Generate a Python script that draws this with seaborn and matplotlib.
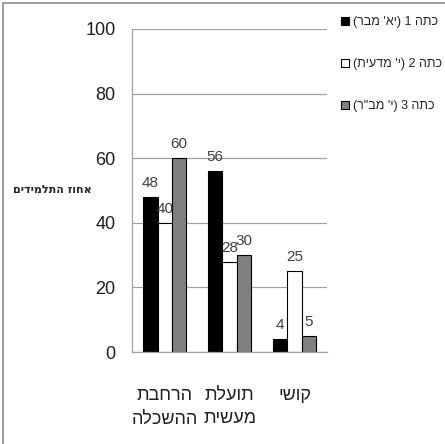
import matplotlib
matplotlib.use("Agg")
import matplotlib.pyplot as plt
from matplotlib.patches import Rectangle
import seaborn as sns
import pandas as pd

categories = ["הרחבת\nההשכלה", "תועלת\nמעשית", "קושי"]
series = ["כתה 1 (יא' מבר)", "כתה 2 (י' מדעית)", 'כתה 3 (י\' מב"ר)']
values = {
    series[0]: [48, 56, 4],
    series[1]: [40, 28, 25],
    series[2]: [60, 30, 5],
}
ylabel = "אחוז התלמידים"
colors = ["#000000", "#ffffff", "#808080"]


def vis(s):
    # matplotlib has no bidi support: put Hebrew in visual order by hand
    swap = {"(": ")", ")": "("}
    return "\n".join("".join(swap.get(c, c) for c in line[::-1]) for line in s.split("\n"))


rows = []
for name in series:
    for cat, v in zip(categories, values[name]):
        rows.append({"cat": vis(cat), "series": vis(name), "val": v})
df = pd.DataFrame(rows)

sns.set_style("white")
plt.rcParams["font.family"] = ["Liberation Sans", "DejaVu Sans"]

fig = plt.figure(figsize=(4.45, 4.44), dpi=100)
ax = fig.add_axes([0.297, 0.207, 0.438, 0.728])

sns.barplot(data=df, x="cat", y="val", hue="series", palette=colors,
            edgecolor="black", linewidth=0.8, width=0.66, ax=ax)

for cont in ax.containers:
    ax.bar_label(cont, padding=5, fontsize=11, color="#404040")

ax.set_ylim(0, 100)
ax.set_yticks(range(0, 101, 20))
ax.set_xlim(-0.5, 2.5)
ax.yaxis.grid(True, color="#a0a0a0", linewidth=0.9)
ax.set_axisbelow(True)
for s in ["top", "right"]:
    ax.spines[s].set_visible(False)
for s in ["left", "bottom"]:
    ax.spines[s].set_color("#a0a0a0")
    ax.spines[s].set_linewidth(0.9)

ax.tick_params(axis="y", length=4, color="#a0a0a0", pad=8, labelsize=13, labelcolor="#202020")
ax.tick_params(axis="x", which="major", length=0, pad=25, labelsize=13, labelcolor="#202020")
for lab in ax.get_xticklabels():
    lab.set_linespacing(1.5)
ax.set_xticks([-0.5, 0.5, 1.5, 2.5], minor=True)
ax.tick_params(axis="x", which="minor", length=6, color="#a0a0a0")
ax.set_xlabel("")
ax.set_ylabel(vis(ylabel), rotation=0, fontsize=8, fontweight="bold",
              family=["DejaVu Sans"])
ax.yaxis.set_label_coords(-0.41, 0.485)

handles, labels = ax.get_legend_handles_labels()
ax.get_legend().remove()
fig.legend(handles, labels, loc="upper left", bbox_to_anchor=(0.755, 0.975),
           frameon=False, fontsize=9, handlelength=0.65, handleheight=0.65,
           handletextpad=0.3, labelspacing=2.4, borderaxespad=0)

fig.patches.append(Rectangle((0.006, -0.01), 1.0, 1.004, transform=fig.transFigure,
                             fill=False, edgecolor="#a0a0a0", linewidth=1.5))

fig.savefig("out.png", dpi=100)
